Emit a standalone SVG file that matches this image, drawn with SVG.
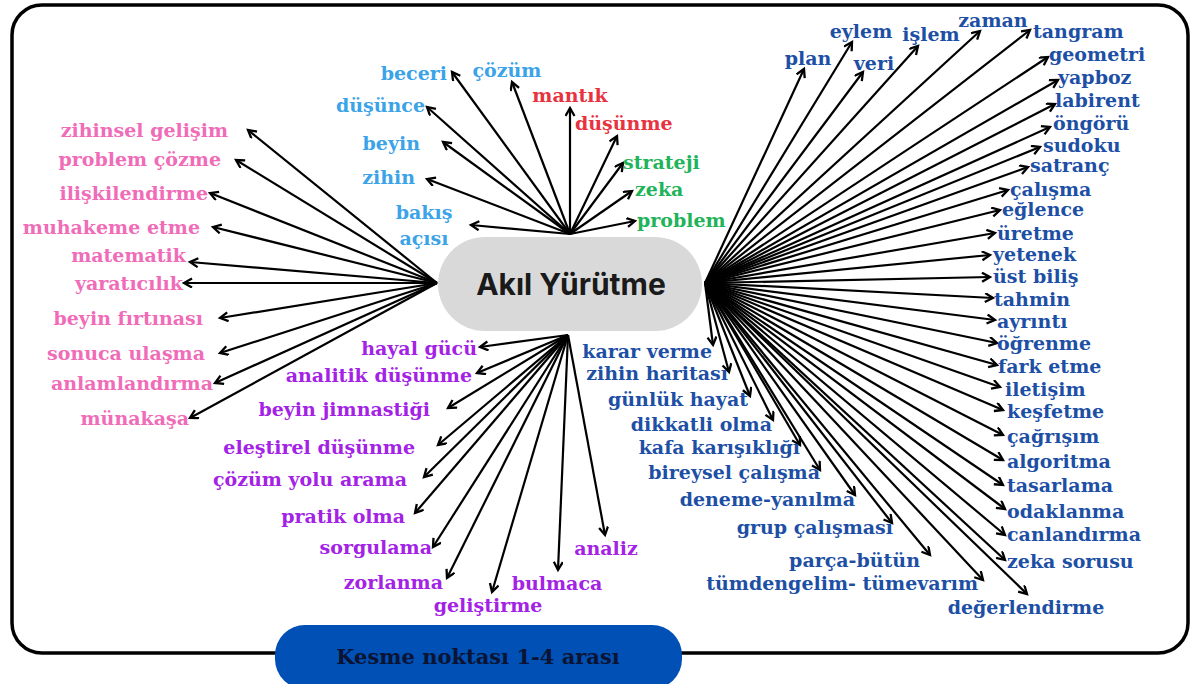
<svg xmlns="http://www.w3.org/2000/svg" width="1192" height="684" viewBox="0 0 1192 684">
<style>
.l{font-family:"DejaVu Serif","Liberation Serif",serif;font-weight:bold;font-size:19px}
.pk{fill:#f06cb8}.lb{fill:#3ba3e8}.rd{fill:#e8333f}.gr{fill:#1fb45a}.pu{fill:#a322e6}.db{fill:#1d4fa5}
.e{text-anchor:end}.m{text-anchor:middle}
#connectors line{stroke:#000;stroke-width:2.2;marker-end:url(#ah)}
</style>
<defs>
<marker id="ah" markerUnits="userSpaceOnUse" markerWidth="12" markerHeight="12" refX="9" refY="5" orient="auto">
<path d="M1,0.5 L9,5 L1,9.5" fill="none" stroke="#000" stroke-width="2.3"/>
</marker>
</defs>
<rect width="1192" height="684" fill="#fff"/>
<rect x="12" y="5" width="1176" height="648" rx="30" fill="#fff" stroke="#000" stroke-width="3.5"/>
<g id="connectors">
<line x1="437" y1="283" x2="248" y2="130"/>
<line x1="437" y1="283" x2="236" y2="160"/>
<line x1="437" y1="283" x2="210" y2="193"/>
<line x1="437" y1="283" x2="213" y2="227"/>
<line x1="437" y1="283" x2="190" y2="262"/>
<line x1="437" y1="283" x2="184" y2="283"/>
<line x1="437" y1="283" x2="220" y2="318"/>
<line x1="437" y1="283" x2="220" y2="353"/>
<line x1="437" y1="283" x2="215" y2="383"/>
<line x1="437" y1="283" x2="190" y2="418"/>
<line x1="570" y1="234" x2="452" y2="72"/>
<line x1="570" y1="234" x2="427" y2="107"/>
<line x1="570" y1="234" x2="443" y2="142"/>
<line x1="570" y1="234" x2="427" y2="179"/>
<line x1="570" y1="234" x2="471" y2="225"/>
<line x1="570" y1="234" x2="512" y2="82"/>
<line x1="570" y1="234" x2="570" y2="108"/>
<line x1="570" y1="234" x2="617" y2="136"/>
<line x1="570" y1="234" x2="623" y2="163"/>
<line x1="570" y1="234" x2="632" y2="191"/>
<line x1="570" y1="234" x2="635" y2="221"/>
<line x1="568" y1="335" x2="480" y2="347"/>
<line x1="568" y1="335" x2="477" y2="373"/>
<line x1="568" y1="335" x2="448" y2="408"/>
<line x1="568" y1="335" x2="438" y2="445"/>
<line x1="568" y1="335" x2="424" y2="477"/>
<line x1="568" y1="335" x2="415" y2="513"/>
<line x1="568" y1="335" x2="433" y2="547"/>
<line x1="568" y1="335" x2="447" y2="578"/>
<line x1="568" y1="335" x2="492" y2="592"/>
<line x1="568" y1="335" x2="558" y2="570"/>
<line x1="568" y1="335" x2="605" y2="535"/>
<line x1="705" y1="283" x2="804" y2="69"/>
<line x1="705" y1="283" x2="852" y2="42"/>
<line x1="705" y1="283" x2="863" y2="72"/>
<line x1="705" y1="283" x2="918" y2="46"/>
<line x1="705" y1="283" x2="980" y2="31"/>
<line x1="705" y1="283" x2="1030" y2="30"/>
<line x1="705" y1="283" x2="1048" y2="57"/>
<line x1="705" y1="283" x2="1058" y2="80"/>
<line x1="705" y1="283" x2="1055" y2="104"/>
<line x1="705" y1="283" x2="1050" y2="127"/>
<line x1="705" y1="283" x2="1040" y2="147"/>
<line x1="705" y1="283" x2="1028" y2="167"/>
<line x1="705" y1="283" x2="1008" y2="190"/>
<line x1="705" y1="283" x2="1000" y2="210"/>
<line x1="705" y1="283" x2="995" y2="233"/>
<line x1="705" y1="283" x2="990" y2="255"/>
<line x1="705" y1="283" x2="990" y2="277"/>
<line x1="705" y1="283" x2="993" y2="298"/>
<line x1="705" y1="283" x2="995" y2="320"/>
<line x1="705" y1="283" x2="997" y2="343"/>
<line x1="705" y1="283" x2="997" y2="365"/>
<line x1="705" y1="283" x2="1000" y2="387"/>
<line x1="705" y1="283" x2="1003" y2="410"/>
<line x1="705" y1="283" x2="1003" y2="435"/>
<line x1="705" y1="283" x2="1003" y2="460"/>
<line x1="705" y1="283" x2="1003" y2="485"/>
<line x1="705" y1="283" x2="1005" y2="509"/>
<line x1="705" y1="283" x2="1005" y2="535"/>
<line x1="705" y1="283" x2="1005" y2="560"/>
<line x1="705" y1="283" x2="713" y2="345"/>
<line x1="705" y1="283" x2="729" y2="372"/>
<line x1="705" y1="283" x2="750" y2="396"/>
<line x1="705" y1="283" x2="773" y2="420"/>
<line x1="705" y1="283" x2="800" y2="445"/>
<line x1="705" y1="283" x2="820" y2="470"/>
<line x1="705" y1="283" x2="855" y2="495"/>
<line x1="705" y1="283" x2="892" y2="523"/>
<line x1="705" y1="283" x2="930" y2="555"/>
<line x1="705" y1="283" x2="983" y2="580"/>
<line x1="705" y1="283" x2="1027" y2="594"/>
</g>
<g id="center">
<rect x="438" y="237" width="264" height="94" rx="47" fill="#d9d9d9"/>
<text x="571" y="295" text-anchor="middle" style="font-family:Inter,'Liberation Sans',sans-serif;font-weight:bold;font-size:30px" fill="#1a1a1a">Akıl Yürütme</text>
</g>
<g id="cutpoint">
<rect x="275" y="625" width="407" height="64" rx="30" fill="#0050b5"/>
<text class="l m" x="478" y="664" style="font-size:21px" fill="#0b1433">Kesme noktası 1-4 arası</text>
</g>
<g id="left-labels" class="l pk">
<text class="e" x="228" y="137">zihinsel gelişim</text>
<text class="e" x="221" y="166">problem çözme</text>
<text class="e" x="208" y="200">ilişkilendirme</text>
<text class="e" x="200" y="234">muhakeme etme</text>
<text class="e" x="186" y="262">matematik</text>
<text class="e" x="183" y="290">yaratıcılık</text>
<text class="e" x="203" y="325">beyin fırtınası</text>
<text class="e" x="205" y="360">sonuca ulaşma</text>
<text class="e" x="213" y="390">anlamlandırma</text>
<text class="e" x="189" y="425">münakaşa</text>
</g>
<g id="top-labels" class="l">
<text class="e lb" x="447" y="80">beceri</text>
<text class="e lb" x="425" y="112">düşünce</text>
<text class="e lb" x="420" y="150">beyin</text>
<text class="e lb" x="415" y="184">zihin</text>
<text class="m lb" x="424" y="219">bakış</text>
<text class="m lb" x="424" y="245">açısı</text>
<text class="m lb" x="507" y="77">çözüm</text>
<text class="m rd" x="570" y="102">mantık</text>
<text class="rd" x="575" y="130">düşünme</text>
<text class="gr" x="623" y="169">strateji</text>
<text class="gr" x="635" y="196">zeka</text>
<text class="gr" x="637" y="227">problem</text>
</g>
<g id="bottom-labels" class="l pu">
<text class="e" x="477" y="355">hayal gücü</text>
<text class="e" x="472" y="382">analitik düşünme</text>
<text class="e" x="430" y="416">beyin jimnastiği</text>
<text class="e" x="415" y="454">eleştirel düşünme</text>
<text class="e" x="407" y="486">çözüm yolu arama</text>
<text class="e" x="405" y="523">pratik olma</text>
<text class="e" x="432" y="554">sorgulama</text>
<text class="e" x="443" y="589">zorlanma</text>
<text class="m" x="488" y="612">geliştirme</text>
<text class="m" x="557" y="590">bulmaca</text>
<text class="m" x="606" y="555">analiz</text>
</g>
<g id="right-labels" class="l db">
<text class="m" x="808" y="65">plan</text>
<text class="m" x="861" y="38">eylem</text>
<text class="m" x="874" y="70">veri</text>
<text class="m" x="931" y="41">işlem</text>
<text class="m" x="993" y="27">zaman</text>
<text x="1033" y="38">tangram</text>
<text x="1049" y="61">geometri</text>
<text x="1058" y="84">yapboz</text>
<text x="1055" y="107">labirent</text>
<text x="1053" y="130">öngörü</text>
<text x="1043" y="152">sudoku</text>
<text x="1030" y="172">satranç</text>
<text x="1010" y="196">çalışma</text>
<text x="1002" y="216">eğlence</text>
<text x="997" y="240">üretme</text>
<text x="993" y="261">yetenek</text>
<text x="993" y="283">üst biliş</text>
<text x="994" y="306">tahmin</text>
<text x="997" y="328">ayrıntı</text>
<text x="997" y="350">öğrenme</text>
<text x="998" y="373">fark etme</text>
<text x="1005" y="396">iletişim</text>
<text x="1007" y="418">keşfetme</text>
<text x="1007" y="443">çağrışım</text>
<text x="1007" y="468">algoritma</text>
<text x="1007" y="492">tasarlama</text>
<text x="1007" y="518">odaklanma</text>
<text x="1007" y="541">canlandırma</text>
<text x="1007" y="568">zeka sorusu</text>
<text class="e" x="712" y="358">karar verme</text>
<text class="e" x="728" y="380">zihin haritası</text>
<text class="e" x="748" y="406">günlük hayat</text>
<text class="e" x="772" y="431">dikkatli olma</text>
<text class="e" x="800" y="454">kafa karışıklığı</text>
<text class="e" x="820" y="479">bireysel çalışma</text>
<text class="e" x="855" y="506">deneme-yanılma</text>
<text class="e" x="893" y="534">grup çalışması</text>
<text class="e" x="920" y="567">parça-bütün</text>
<text class="e" x="978" y="590">tümdengelim- tümevarım</text>
<text class="m" x="1026" y="614">değerlendirme</text>
</g>
</svg>
